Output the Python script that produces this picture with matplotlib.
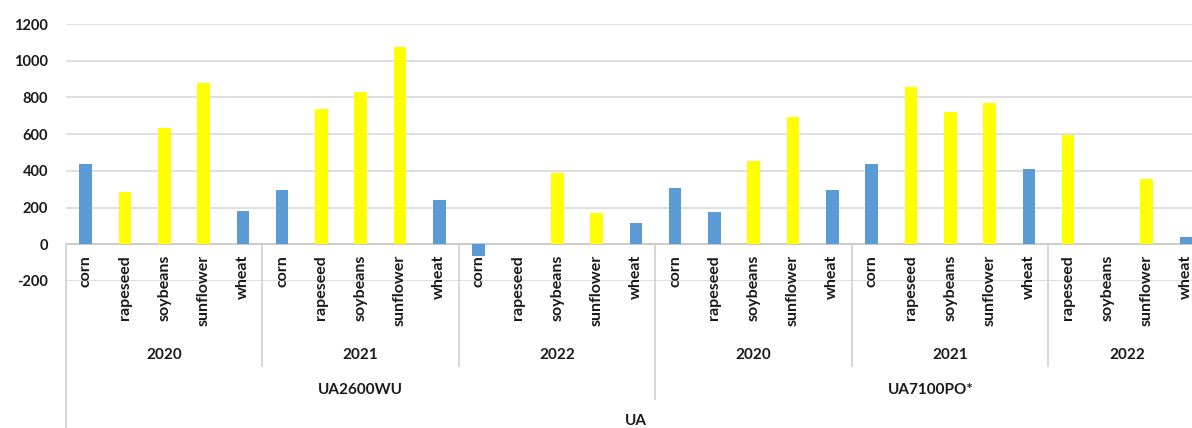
import numpy as np
import matplotlib.pyplot as plt
from matplotlib.transforms import blended_transform_factory

# crop order inside every station/year block
stations = ["UA2600WU", "UA7100PO*"]
years = ["2020", "2021", "2022"]
crops = [
    ["corn", "rapeseed", "soybeans", "sunflower", "wheat"],
    ["corn", "rapeseed", "soybeans", "sunflower", "wheat"],
    ["corn", "rapeseed", "soybeans", "sunflower", "wheat"],
    ["corn", "rapeseed", "soybeans", "sunflower", "wheat"],
    ["corn", "rapeseed", "soybeans", "sunflower", "wheat"],
    ["rapeseed", "soybeans", "sunflower", "wheat"],
]
nan = np.nan
# two series, one value per crop label (nan = no bar in that series)
series_blue = [
    436, nan, nan, nan, 182,
    296, nan, nan, nan, 241,
    -65, nan, nan, nan, 116,
    307, 175, nan, nan, 295,
    435, nan, nan, nan, 409,
    nan, nan, nan, 38,
]
series_yellow = [
    nan, 284, 633, 880, nan,
    nan, 735, 830, 1075, nan,
    nan, nan, 390, 172, nan,
    nan, nan, 455, 695, nan,
    nan, 858, 722, 767, nan,
    596, nan, 356, nan,
]

W, H = 1192, 428
plt.rcParams['font.family'] = ['Lato', 'DejaVu Sans']
plt.rcParams['axes.unicode_minus'] = False
fig = plt.figure(figsize=(W / 100, H / 100), dpi=100)

n = sum(len(c) for c in crops)
step = 39.3
ax = fig.add_axes([66 / W, (H - 281) / H, n * step / W, (281 - 24) / H])
x = np.arange(n)
ax.bar(x, series_blue, width=0.32, color="#5B9BD5", zorder=3)
ax.bar(x, series_yellow, width=0.32, color="#FFFF00", zorder=3)

ax.set_xlim(-0.5, n - 0.5)
ax.set_ylim(-200, 1200)
ax.set_yticks(range(-200, 1201, 200))
ax.set_xticks([])
ax.tick_params(axis="y", length=0, pad=13, labelsize=10.5, labelcolor="#1a1a1a")
for lbl in ax.get_yticklabels():
    lbl.set_fontweight("bold")
ax.grid(axis="y", color="#d9d9d9", linewidth=1.2, zorder=0)
for s in ax.spines.values():
    s.set_visible(False)
ax.axhline(0, color="#c8c8c8", linewidth=1.2, zorder=2)

tr = blended_transform_factory(ax.transData, fig.transFigure)
y0 = (H - 244) / H

def vline(xpos, ybottom):
    ax.plot([xpos, xpos], [y0, ybottom], transform=tr, color="#d0d0d0",
            linewidth=1.2, clip_on=False)

# crop labels below the zero line
flat = [c for block in crops for c in block]
for i, name in enumerate(flat):
    ax.text(i, (H - 255) / H, name, transform=tr, rotation=90, ha="center",
            va="top", fontsize=11.5, fontweight="bold", color="#1a1a1a")

# year and station rows
vline(-0.5, 0)
start = 0
for b, block in enumerate(crops):
    end = start + len(block)
    ax.text((start + end - 1) / 2, (H - 355) / H, years[b % 3], transform=tr,
            ha="center", va="center", fontsize=11, fontweight="bold",
            color="#1a1a1a")
    if b in (0, 1, 3, 4):
        vline(end - 0.5, (H - 366) / H)
    elif b == 2:
        vline(end - 0.5, (H - 399) / H)
    start = end

split = sum(len(c) for c in crops[:3])
ax.text((split - 1) / 2, (H - 390) / H, stations[0], transform=tr,
        ha="center", va="center", fontsize=11, fontweight="bold", color="#1a1a1a")
ax.text((split + n - 1) / 2, (H - 390) / H, stations[1], transform=tr,
        ha="center", va="center", fontsize=11, fontweight="bold", color="#1a1a1a")
ax.text((n - 1) / 2, (H - 421) / H, "UA", transform=tr,
        ha="center", va="center", fontsize=11, fontweight="bold", color="#1a1a1a")

fig.savefig("out.png", dpi=100)
